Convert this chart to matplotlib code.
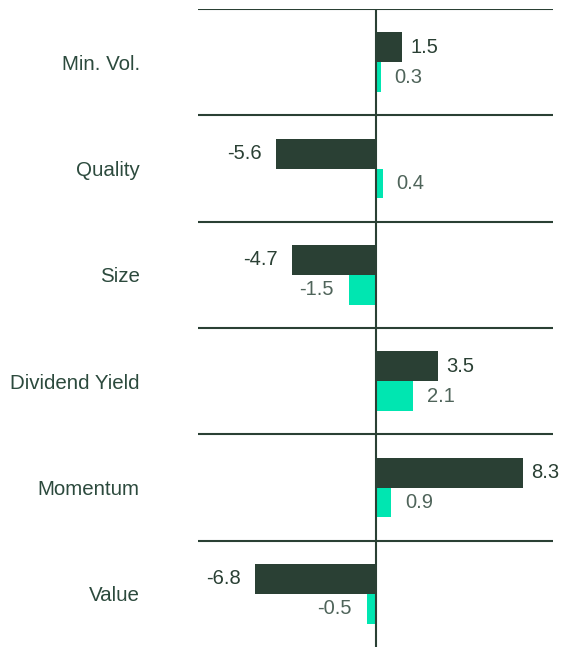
import matplotlib
matplotlib.use("Agg")
import matplotlib.pyplot as plt
import numpy as np

plt.rcParams['font.family'] = ['Liberation Sans', 'DejaVu Sans']

categories = ["Min. Vol.", "Quality", "Size", "Dividend Yield", "Momentum", "Value"]
series_a = [1.5, -5.6, -4.7, 3.5, 8.3, -6.8]
series_b = [0.3, 0.4, -1.5, 2.1, 0.9, -0.5]

dark = "#2a4034"
teal = "#00e6b1"
dark_txt = "#2a4034"
teal_txt = "#4f645a"
cat_txt = "#2c4a3d"

fig = plt.figure(figsize=(5.61, 6.47), dpi=100)
ax = fig.add_axes([198/561, 0, 355/561, 638/647])

y = np.arange(len(categories))
h = 0.282
ax.barh(y - h/2, series_a, height=h, color=dark, zorder=2)
ax.barh(y + h/2, series_b, height=h, color=teal, zorder=2)

for yi, v in zip(y, series_a):
    off = 6 if v >= 0 else -10
    ax.annotate(f"{v:.1f}", (v, yi - h/2), xytext=(off, 0), textcoords="offset points",
                ha="left" if v >= 0 else "right", va="center", fontsize=14.5, color=dark_txt)
for yi, v in zip(y, series_b):
    off = 10 if v >= 0 else -11
    ax.annotate(f"{v:.1f}", (v, yi + h/2), xytext=(off, 0), textcoords="offset points",
                ha="left" if v >= 0 else "right", va="center", fontsize=14.5, color=teal_txt)

for b in np.arange(len(categories)) - 0.5:
    ax.axhline(b, color=dark, lw=1.5, zorder=3)
ax.axvline(0, color=dark, lw=1.5, zorder=3)

ax.set_xlim(-10, 10)
ax.set_ylim(len(categories) - 0.5, -0.5)
ax.set_yticks(y)
ax.set_yticklabels(categories, fontsize=14.8, color=cat_txt)
ax.tick_params(axis='y', length=0, pad=42)
ax.set_xticks([])
for s in ax.spines.values():
    s.set_visible(False)
ax.patch.set_alpha(0)

fig.savefig("out.png", dpi=100)
